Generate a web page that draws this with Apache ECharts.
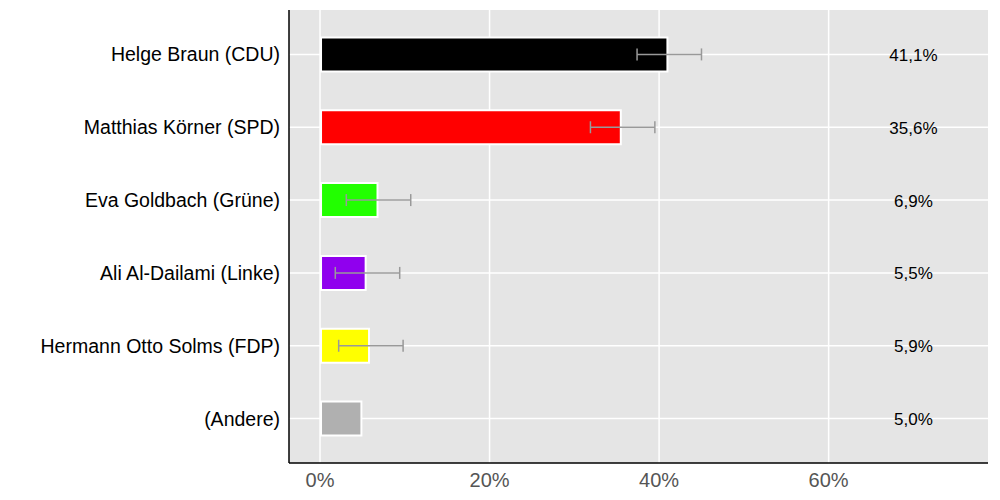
<!DOCTYPE html>
<html><head><meta charset="utf-8">
<script src="https://cdn.jsdelivr.net/npm/echarts@6/dist/echarts.min.js"></script>
<style>html,body{margin:0;background:#fff}#c{width:1000px;height:500px}</style>
</head><body><div id="c"></div>
<script>
const candidates = ['Helge Braun (CDU)', 'Matthias Körner (SPD)', 'Eva Goldbach (Grüne)', 'Ali Al-Dailami (Linke)', 'Hermann Otto Solms (FDP)', '(Andere)'];
const shares = [41.1, 35.6, 6.9, 5.5, 5.9, 5.0];
const barColors = ['#000000', '#ff0000', '#22ff00', '#9000ee', '#ffff00', '#b0b0b0'];
const errLow = [37.4, 31.9, 3.1, 1.8, 2.2, null];
const errHigh = [45.0, 39.5, 10.7, 9.4, 9.8, null];
const labelX = 70;

const chart = echarts.init(document.getElementById('c'), null, { renderer: 'svg' });
const font = 'Liberation Sans, Arial, Helvetica, sans-serif';
chart.setOption({
  animation: false,
  graphic: [
    { type: 'rect', z: -10, shape: { x: 289, y: 10, width: 699, height: 453 }, style: { fill: '#e5e5e5' } },
    { type: 'line', z: 10, shape: { x1: 289, y1: 10, x2: 289, y2: 463 }, style: { stroke: '#000', lineWidth: 1.5 } },
    { type: 'line', z: 10, shape: { x1: 289, y1: 463, x2: 988, y2: 463 }, style: { stroke: '#000', lineWidth: 1.5 } }
  ],
  grid: { left: 289, right: 12, top: 18, bottom: 45, containLabel: false },
  xAxis: {
    type: 'value', min: -3.66, max: 78.8, interval: 20,
    axisLine: { show: false }, axisTick: { show: false },
    splitLine: { show: false },
    axisLabel: { show: false }
  },
  yAxis: {
    type: 'category', data: candidates, inverse: true,
    axisLine: { show: false }, axisTick: { show: false },
    splitLine: { show: false },
    axisLabel: { fontFamily: font, fontSize: 19.5, color: '#000', margin: 9 }
  },
  series: [
    {
      type: 'custom', z: 1, silent: true,
      data: [0, 20, 40, 60].map(v => [v]),
      renderItem: (p, api) => {
        const x = api.coord([api.value(0), 0])[0];
        return { type: 'group', children: [
          { type: 'line', shape: { x1: x, y1: 10, x2: x, y2: 463 }, style: { stroke: '#fff', lineWidth: 1.5 } },
          { type: 'text', style: { text: api.value(0) + '%', x: x, y: 480, textAlign: 'center', textVerticalAlign: 'middle', fontSize: 20, fontFamily: font, fill: '#555' } }
        ] };
      }
    },
    {
      type: 'custom', z: 1, silent: true,
      data: candidates.map((c, i) => [i]),
      renderItem: (p, api) => {
        const y = api.coord([0, api.value(0)])[1];
        return { type: 'line', shape: { x1: 289, y1: y, x2: 988, y2: y }, style: { stroke: '#fff', lineWidth: 1.5 } };
      }
    },
    {
      type: 'bar', z: 3, barWidth: 36,
      data: shares.map((v, i) => ({ value: v, itemStyle: { color: barColors[i] } })),
      itemStyle: { borderColor: '#fff', borderWidth: 2 }
    },
    {
      type: 'custom', z: 4, silent: true,
      data: errLow.map((l, i) => [l, errHigh[i], i]).filter(d => d[0] !== null),
      renderItem: (p, api) => {
        const a = api.coord([api.value(0), api.value(2)]);
        const b = api.coord([api.value(1), api.value(2)]);
        const s = { stroke: '#999', lineWidth: 1.5 };
        return { type: 'group', children: [
          { type: 'line', shape: { x1: a[0], y1: a[1], x2: b[0], y2: b[1] }, style: s },
          { type: 'line', shape: { x1: a[0], y1: a[1] - 6, x2: a[0], y2: a[1] + 6 }, style: s },
          { type: 'line', shape: { x1: b[0], y1: b[1] - 6, x2: b[0], y2: b[1] + 6 }, style: s }
        ] };
      }
    },
    {
      type: 'custom', z: 4, silent: true,
      data: shares.map((v, i) => [labelX, i, v]),
      renderItem: (p, api) => {
        const c = api.coord([api.value(0), api.value(1)]);
        return { type: 'text', style: { text: api.value(2).toFixed(1).replace('.', ',') + '%', x: c[0], y: c[1] + 1, textAlign: 'center', textVerticalAlign: 'middle', fontSize: 17, fontFamily: font, fill: '#000' } };
      }
    }
  ]
});
</script></body></html>
